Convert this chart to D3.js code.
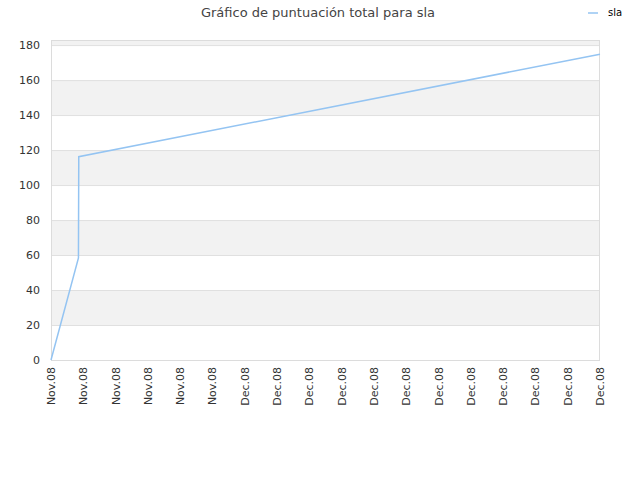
<!DOCTYPE html><html><head><meta charset="utf-8"><script src="https://cdn.jsdelivr.net/npm/d3@7"></script>
<style>body{margin:0;background:#fff}</style></head><body><svg width="640" height="480"></svg><script>
const tickLabels=["Nov.08","Nov.08","Nov.08","Nov.08","Nov.08","Nov.08","Dec.08","Dec.08","Dec.08","Dec.08","Dec.08","Dec.08","Dec.08","Dec.08","Dec.08","Dec.08","Dec.08","Dec.08"];
const xs=[0,0.85,0.86,17];
const ys=[0,58.3,116.2,174.8];
const yTicks=[0,20,40,60,80,100,120,140,160,180];
const svg=d3.select("svg"),f="DejaVu Sans, sans-serif";
const L=51,R=600,T=40,B=360;
const x=d3.scaleLinear().domain([0,17]).range([L,R]);
const y=d3.scaleLinear().domain([0,182.9]).range([B,T]);
const bands=[[20,40],[60,80],[100,120],[140,160],[180,182.9]];
svg.selectAll(".b").data(bands).enter().append("rect").attr("x",L).attr("width",R-L).attr("y",d=>y(d[1])).attr("height",d=>y(d[0])-y(d[1])).attr("fill","#f2f2f2");
svg.selectAll(".g").data(yTicks).enter().append("line").attr("x1",L).attr("x2",R).attr("y1",d=>y(d)+0.5).attr("y2",d=>y(d)+0.5).attr("stroke","#e0e0e0");
svg.append("rect").attr("x",L+0.5).attr("y",T+0.5).attr("width",R-L-1).attr("height",B-T).attr("fill","none").attr("stroke","#dcdcdc");
svg.selectAll(".yl").data(yTicks).enter().append("text").attr("x",L-11).attr("y",d=>y(d)+4).attr("text-anchor","end").attr("font-family",f).attr("font-size",11).attr("fill","#333").text(d=>d);
svg.selectAll(".xl").data(tickLabels).enter().append("text").attr("transform",(d,i)=>`translate(${x(i)+4},${B+7}) rotate(-90)`).attr("text-anchor","end").attr("font-family",f).attr("font-size",11).attr("fill","#333").text(d=>d);
svg.append("path").datum(xs.map((v,i)=>[v,ys[i]])).attr("d",d3.line().x(d=>x(d[0])).y(d=>y(d[1]))).attr("fill","none").attr("stroke","#94c4f2").attr("stroke-width",1.5);
svg.append("text").attr("x",318).attr("y",17).attr("text-anchor","middle").attr("font-family",f).attr("font-size",13).attr("fill","#444").text("Gráfico de puntuación total para sla");
svg.append("line").attr("x1",588).attr("x2",598).attr("y1",13).attr("y2",13).attr("stroke","#94c4f2").attr("stroke-width",1.5);
svg.append("text").attr("x",608).attr("y",16).attr("font-family",f).attr("font-size",10).attr("fill","#000").text("sla");
</script></body></html>
